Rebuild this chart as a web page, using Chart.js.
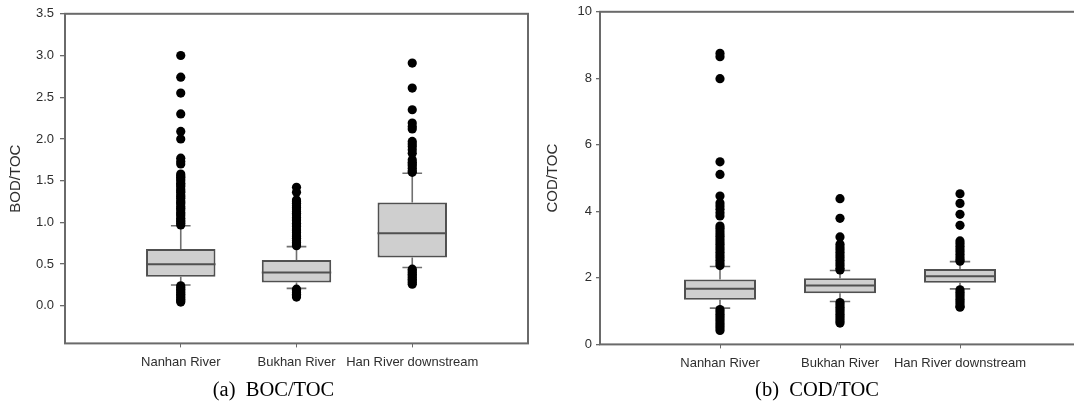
<!DOCTYPE html>
<html>
<head>
<meta charset="utf-8">
<script src="https://cdn.jsdelivr.net/npm/chart.js@4.4.1/dist/chart.umd.min.js"></script>
<style>
  body { margin: 0; background: #fff; }
  #wrap { position: relative; width: 1074px; height: 405px; overflow: hidden; }
  .panel { position: absolute; top: 0; height: 405px; }
  .cap { position: absolute; top: 379px; text-align: center; font-family: 'Liberation Serif', 'Times New Roman', serif; font-size: 20.5px; line-height: 1; color: #000; white-space: pre; }
</style>
</head>
<body>
<div id="wrap">
  <div class="panel" style="left:0;width:547px"><canvas id="bodChart" width="547" height="405"></canvas></div>
  <div class="panel" style="left:537px;width:560px"><canvas id="codChart" width="560" height="405"></canvas></div>
  <div class="cap" style="left:0;width:547px">(a)  BOC/TOC</div>
  <div class="cap" style="left:537px;width:560px">(b)  COD/TOC</div>
</div>
<script>
const categories = ['Nanhan River', 'Bukhan River', 'Han River downstream']
const catPositions = [1, 2, 3]

// BOD/TOC boxes
const bodLow = [0.25, 0.21, 0.46]
const bodQ1 = [0.35, 0.28, 0.58]
const bodMedian = [0.50, 0.40, 0.87]
const bodQ3 = [0.68, 0.55, 1.24]
const bodHigh = [0.96, 0.71, 1.59]
const bodNanhanOut = [3.00, 2.74, 2.55, 2.30, 2.09, 2.00, 1.77, 1.73, 1.70, 1.58, 1.56, 1.54, 1.52, 1.50, 1.47, 1.45, 1.43, 1.40, 1.38, 1.36, 1.33, 1.31, 1.29, 1.26, 1.24, 1.22, 1.19, 1.17, 1.15, 1.12, 1.10, 1.08, 1.05, 1.03, 1.01, 0.99, 0.97,
  0.24, 0.22, 0.20, 0.18, 0.16, 0.14, 0.12, 0.10, 0.08, 0.06, 0.045]
const bodBukhanOut = [1.42, 1.36, 1.27, 1.25, 1.23, 1.20, 1.18, 1.16, 1.13, 1.11, 1.09, 1.06, 1.04, 1.02, 0.99, 0.97, 0.95, 0.92, 0.90, 0.88, 0.85, 0.83, 0.81, 0.78, 0.76, 0.74, 0.72,
  0.20, 0.18, 0.16, 0.14, 0.12, 0.105]
const bodHanOut = [2.91, 2.61, 2.35, 2.19, 2.15, 2.12, 1.97, 1.94, 1.91, 1.87, 1.83, 1.75, 1.72, 1.70, 1.68, 1.65, 1.62, 1.60,
  0.44, 0.42, 0.40, 0.38, 0.36, 0.34, 0.32, 0.30, 0.28, 0.26]
const bodTickValues = [0, 0.5, 1, 1.5, 2, 2.5, 3, 3.5]
const bodTickLabels = ['0.0', '0.5', '1.0', '1.5', '2.0', '2.5', '3.0', '3.5']

// COD/TOC boxes
const codLow = [1.09, 1.29, 1.67]
const codQ1 = [1.34, 1.54, 1.85]
const codMedian = [1.67, 1.77, 2.05]
const codQ3 = [1.95, 1.99, 2.27]
const codHigh = [2.34, 2.22, 2.49]
const codNanhanOut = [8.75, 8.65, 7.99, 5.49, 5.11, 4.46, 4.25, 4.16, 4.06, 3.96, 3.86, 3.56, 3.49, 3.41, 3.33, 3.25, 3.17, 3.09, 3.01, 2.93, 2.85, 2.77, 2.69, 2.61, 2.53, 2.45, 2.37,
  1.05, 0.98, 0.91, 0.84, 0.77, 0.70, 0.63, 0.56, 0.49, 0.42]
const codBukhanOut = [4.38, 3.79, 3.23, 3.01, 2.93, 2.85, 2.77, 2.69, 2.61, 2.53, 2.45, 2.37, 2.29, 2.24,
  1.26, 1.19, 1.12, 1.05, 0.98, 0.91, 0.84, 0.77, 0.70, 0.64]
const codHanOut = [4.53, 4.24, 3.91, 3.58, 3.11, 3.03, 2.95, 2.87, 2.79, 2.71, 2.63, 2.55, 2.50,
  1.64, 1.57, 1.50, 1.43, 1.36, 1.29, 1.22, 1.15, 1.12]
const codTickValues = [0, 2, 4, 6, 8, 10]
const codTickLabels = ['0', '2', '4', '6', '8', '10']

const sans = "'Liberation Sans', Arial, sans-serif"
const lineGray = '#6a6a6a'

// whiskers, caps, medians and the frame, drawn through the chart scales
const boxParts = {
    id: 'boxParts',
    beforeDatasetsDraw(chart) {
        const { ctx, chartArea, scales: { x, y } } = chart
        const ds = chart.data.datasets[0]
        ctx.save()
        ctx.strokeStyle = lineGray
        ctx.lineWidth = 2
        ctx.strokeRect(chartArea.left, chartArea.top, chartArea.right - chartArea.left, chartArea.bottom - chartArea.top)
        ctx.strokeStyle = '#707070'
        ctx.lineWidth = 1.6
        ds.data.forEach((d, i) => {
            const px = x.getPixelForValue(d.x)
            const cl = x.getPixelForValue(d.x - 0.085)
            const cr = x.getPixelForValue(d.x + 0.085)
            const lo = y.getPixelForValue(ds.whiskerLow[i])
            const hi = y.getPixelForValue(ds.whiskerHigh[i])
            const q1 = y.getPixelForValue(d.y[0])
            const q3 = y.getPixelForValue(d.y[1])
            ctx.beginPath()
            ctx.moveTo(px, q1); ctx.lineTo(px, lo)
            ctx.moveTo(px, q3); ctx.lineTo(px, hi)
            ctx.moveTo(cl, lo); ctx.lineTo(cr, lo)
            ctx.moveTo(cl, hi); ctx.lineTo(cr, hi)
            ctx.stroke()
        })
        ctx.restore()
    },
    afterDatasetDraw(chart, args) {
        if (args.index !== 0) return
        const { ctx, scales: { y } } = chart
        const ds = chart.data.datasets[0]
        const bars = chart.getDatasetMeta(0).data
        ctx.save()
        ctx.strokeStyle = '#505050'
        ctx.lineWidth = 2
        bars.forEach((bar, i) => {
            const my = y.getPixelForValue(ds.median[i])
            ctx.beginPath()
            ctx.moveTo(bar.x - bar.width / 2, my)
            ctx.lineTo(bar.x + bar.width / 2, my)
            ctx.stroke()
        })
        ctx.restore()
    }
}

function buildChart(canvasId, opt) {
    const boxes = catPositions.map((p, i) => ({ x: p, y: [opt.q1[i], opt.q3[i]] }))
    const dots = []
    opt.outliers.forEach((list, i) => list.forEach(v => dots.push({ x: catPositions[i], y: v })))

    return new Chart(document.getElementById(canvasId), {
        type: 'bar',
        data: {
            datasets: [{
                type: 'bar',
                data: boxes,
                whiskerLow: opt.low,
                whiskerHigh: opt.high,
                median: opt.median,
                backgroundColor: '#cfcfcf',
                borderColor: '#505050',
                borderWidth: 2,
                borderSkipped: false,
                barPercentage: 0.6,
                categoryPercentage: 1,
                order: 2
            }, {
                type: 'scatter',
                data: dots,
                pointRadius: 4.6,
                pointBackgroundColor: '#000',
                pointBorderWidth: 0,
                order: 1
            }]
        },
        options: {
            responsive: false,
            animation: false,
            layout: { padding: opt.padding },
            plugins: { legend: { display: false }, tooltip: { enabled: false } },
            scales: {
                x: {
                    type: 'linear',
                    min: 0,
                    max: 4,
                    offset: false,
                    afterBuildTicks: s => { s.ticks = catPositions.map(v => ({ value: v })) },
                    grid: { drawOnChartArea: false, drawTicks: true, tickLength: 4, color: lineGray, offset: false },
                    border: { display: false },
                    ticks: {
                        autoSkip: false,
                        maxRotation: 0,
                        padding: 7,
                        color: '#2e2e2e',
                        font: { family: sans, size: 13 },
                        callback: v => categories[catPositions.indexOf(v)]
                    }
                },
                y: {
                    type: 'linear',
                    min: opt.yMin,
                    max: opt.yMax,
                    afterBuildTicks: s => { s.ticks = opt.tickValues.map(v => ({ value: v })) },
                    afterFit: s => { s.width = opt.axisWidth },
                    grid: { drawOnChartArea: false, drawTicks: true, tickLength: opt.tickLen, color: lineGray, lineWidth: 1.3 },
                    border: { display: false },
                    ticks: {
                        padding: opt.tickPad,
                        color: '#2e2e2e',
                        font: { family: sans, size: 13 },
                        callback: v => opt.tickLabels[opt.tickValues.indexOf(v)]
                    },
                    title: {
                        display: true,
                        text: opt.title,
                        color: '#2e2e2e',
                        font: { family: sans, size: 15 },
                        padding: { top: 7, bottom: 0 }
                    }
                }
            }
        },
        plugins: [boxParts]
    })
}

buildChart('bodChart', {
    q1: bodQ1, q3: bodQ3, low: bodLow, high: bodHigh, median: bodMedian,
    outliers: [bodNanhanOut, bodBukhanOut, bodHanOut],
    yMin: -0.45, yMax: 3.5,
    tickValues: bodTickValues, tickLabels: bodTickLabels,
    title: 'BOD/TOC',
    axisWidth: 65, tickLen: 5, tickPad: 6,
    padding: { left: 0, top: 11, right: 19, bottom: 28 }
})

buildChart('codChart', {
    q1: codQ1, q3: codQ3, low: codLow, high: codHigh, median: codMedian,
    outliers: [codNanhanOut, codBukhanOut, codHanOut],
    yMin: 0, yMax: 10,
    tickValues: codTickValues, tickLabels: codTickLabels,
    title: 'COD/TOC',
    axisWidth: 63, tickLen: 4, tickPad: 4,
    padding: { left: 0, top: 10, right: 17, bottom: 27 }
})
</script>
</body>
</html>
